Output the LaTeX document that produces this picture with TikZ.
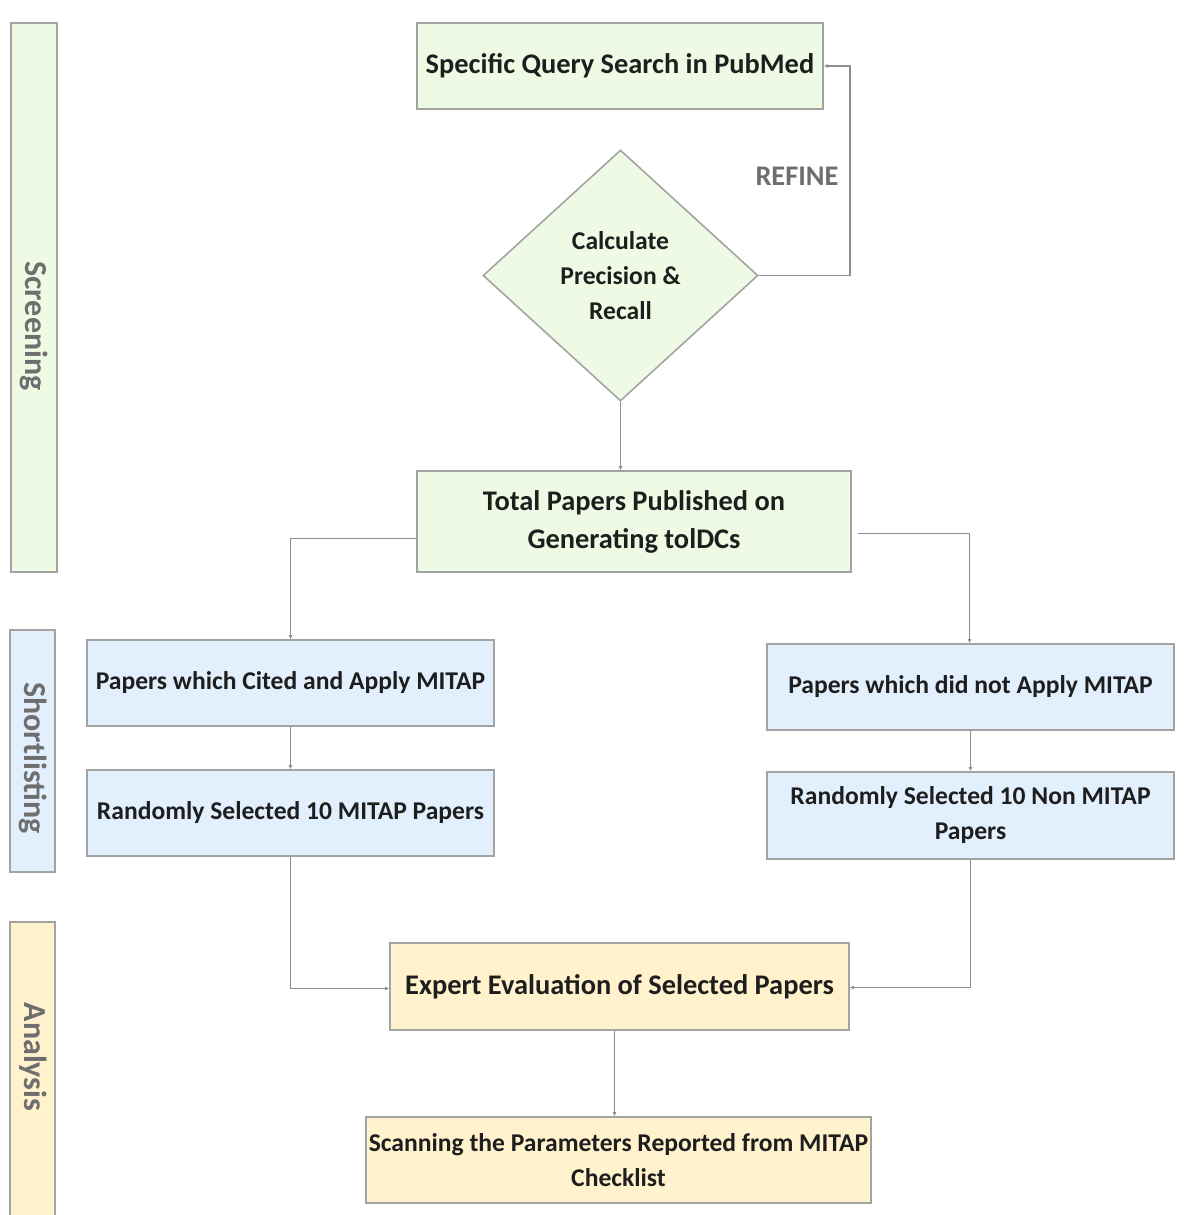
\documentclass[tikz,border=0pt]{standalone}
\usepackage{fontspec}
\setmainfont{Carlito}
\usetikzlibrary{shapes.geometric,arrows.meta}

\definecolor{fillgreen}{HTML}{EFFAE4}
\definecolor{fillblue}{HTML}{E2EFFC}
\definecolor{fillyellow}{HTML}{FFF2CC}
\definecolor{boxline}{HTML}{A3A3A3}
\definecolor{wire}{HTML}{8E8E8E}
\definecolor{bodytext}{HTML}{1E1E1E}
\definecolor{labelgray}{HTML}{6E6E6E}

\tikzset{
  stepbox/.style={draw=boxline, line width=0.8pt, inner sep=0pt, align=center,
    text=bodytext, font=\bfseries\fontsize{12.8}{17.5}\selectfont},
  bigtext/.style={font=\bfseries\fontsize{14.2}{19}\selectfont},
  greenbox/.style={stepbox, fill=fillgreen},
  bluebox/.style={stepbox, fill=fillblue},
  yellowbox/.style={stepbox, fill=fillyellow},
  band/.style={draw=boxline, line width=0.6pt, inner sep=0pt},
  bandtext/.style={text=labelgray, font=\bfseries\fontsize{16}{18}\selectfont, rotate=-90, inner sep=0pt},
  link/.style={draw=wire, line width=0.7pt, -{Latex[length=2pt,width=2pt]}},
}

\begin{document}
\begin{tikzpicture}[x=0.5pt, y=-0.5pt]
  \useasboundingbox (0,0) rectangle (1203,1215);

  % phase bands on the left
  \node[band, fill=fillgreen, minimum width=23pt, minimum height=274.5pt] (bandscreen) at (34,297.5) {};
  \node[band, fill=fillblue, minimum width=22.5pt, minimum height=121pt] (bandshort) at (32.5,751) {};
  \node[band, fill=fillyellow, minimum width=22.5pt, minimum height=150pt] (bandanalysis) at (32.5,1072) {};
  \node[bandtext] (lblscreen) at (34,326) {Screening};
  \node[bandtext] (lblshort) at (33,758) {Shortlisting};
  \node[bandtext] (lblanalysis) at (33,1057) {Analysis};

  % screening steps
  \node[greenbox, bigtext, minimum width=203pt, minimum height=43pt] (query) at (620,66) {Specific Query Search in PubMed};
  \node[greenbox, shape=diamond, minimum width=137.5pt, minimum height=125.5pt] (calc) at (620.5,275.5)
    {Calculate\\Precision \&\\Recall};
  \node[greenbox, bigtext, minimum width=217pt, minimum height=50.5pt] (total) at (634,521.5)
    {Total Papers Published on\\Generating tolDCs};

  % shortlisting steps
  \node[bluebox, minimum width=203.5pt, minimum height=43pt] (cited) at (290.5,683) {Papers which Cited and Apply MITAP};
  \node[bluebox, minimum width=203.5pt, minimum height=43pt] (notapply) at (970.5,687) {Papers which did not Apply MITAP};
  \node[bluebox, minimum width=203.5pt, minimum height=43pt] (rand) at (290.5,813) {Randomly Selected 10 MITAP Papers};
  \node[bluebox, minimum width=203.5pt, minimum height=43.5pt] (randnon) at (970.5,815.5)
    {Randomly Selected 10 Non MITAP\\Papers};

  % analysis steps
  \node[yellowbox, bigtext, minimum width=229.5pt, minimum height=43.5pt] (expert) at (619.5,986.5) {Expert Evaluation of Selected Papers};
  \node[yellowbox, minimum width=252.5pt, minimum height=43pt] (scan) at (618.5,1160)
    {Scanning the Parameters Reported from MITAP\\Checklist};

  % refine loop label
  \node[text=labelgray, bigtext, inner sep=0pt] (refine) at (797,176) {REFINE};

  % connectors
  \draw[link] (calc.east) -| ([xshift=13pt]query.east) -- (query.east);
  \draw[link] (calc.south) -- (calc.south |- total.north);
  \draw[link] ([yshift=-8.5pt]total.west) -| (cited.north);
  \draw[link] ([xshift=3pt,yshift=-6pt]total.east) -| ([xshift=-0.5pt]notapply.north);
  \draw[link] (cited.south) -- (rand.north);
  \draw[link] (notapply.south) -- (randnon.north);
  \draw[link] (rand.south) |- ([yshift=-1pt]expert.west);
  \draw[link] (randnon.south) |- ([yshift=-0.5pt]expert.east);
  \draw[link] ([xshift=-2.5pt]expert.south) -- ([xshift=-2.5pt]expert.south |- scan.north);
\end{tikzpicture}
\end{document}
